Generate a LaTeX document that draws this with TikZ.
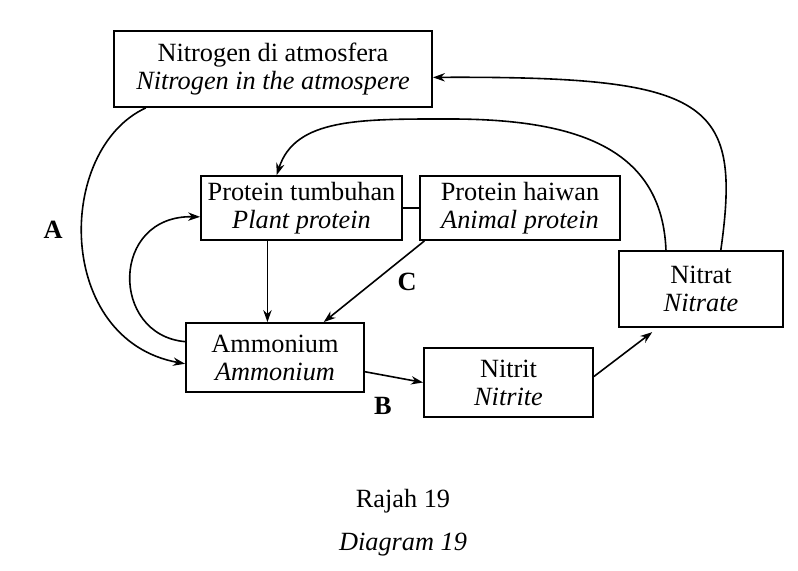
\documentclass[tikz,border=0pt]{standalone}
\usepackage{fontspec}
\setmainfont{Liberation Serif}
\usetikzlibrary{arrows.meta}

\begin{document}
\begin{tikzpicture}[x=0.5pt, y=-0.5pt,
  kotak/.style={draw, line width=0.9pt, align=center, inner sep=0pt, font=\fontsize{13.15}{14}\selectfont},
  anak/.style={-{Stealth[length=6pt, width=4.2pt]}, line width=0.8pt},
  huruf/.style={font=\fontsize{13.15}{14}\selectfont\bfseries},
  teks/.style={font=\fontsize{13.15}{14}\selectfont}]
  \useasboundingbox (0,0) rectangle (798,571);

  % Kotak
  \node[kotak, minimum width=159pt, minimum height=38pt] (atm) at (273,69) {Nitrogen di atmosfera\\\textit{Nitrogen in the atmospere}};
  \node[kotak, minimum width=100.5pt, minimum height=32pt] (plant) at (301.5,208) {Protein tumbuhan\\\textit{Plant protein}};
  \node[kotak, minimum width=100pt, minimum height=32pt] (animal) at (520,208) {Protein haiwan\\\textit{Animal protein}};
  \node[kotak, minimum width=89pt, minimum height=34.5pt] (amm) at (275,357.5) {Ammonium\\\textit{Ammonium}};
  \node[kotak, minimum width=84.5pt, minimum height=34.5pt] (nitrit) at (508.5,382.5) {Nitrit\\\textit{Nitrite}};
  \node[kotak, minimum width=82pt, minimum height=38pt] (nitrat) at (701,289) {Nitrat\\\textit{Nitrate}};

  % Anak panah
  \draw[anak] (atm.197) .. controls (55,150) and (55,340) .. (amm.184);
  \draw[anak] (amm.170) .. controls (110,335) and (110,215) .. (plant.185);
  \draw[line width=0.8pt] (plant.east) -- (animal.west);
  \draw[anak] (plant.224) -- (plant.224 |- amm.north);
  \draw[anak] (animal.199) -- (amm.36);
  \draw[anak] (amm.-9) -- (nitrit.west);
  \draw[anak, shorten >=3.5pt] (nitrit.4) -- (nitrat.222);
  \draw[anak] (nitrat.63) .. controls (742,100) and (710,76) .. (atm.-3);
  \draw[anak] (nitrat.132) .. controls (662,150) and (580,119) .. (450,119)
    .. controls (360,119) and (295,118) .. (plant.127);

  % Label
  \node[huruf] (labA) at (53,230) {A};
  \node[huruf] (labB) at (383,406) {B};
  \node[huruf] (labC) at (407,282) {C};

  \node[teks] (rajah) at (403,501) {Rajah 19};
  \node[teks] (diag) at (403,545) {\textit{Diagram 19}};
\end{tikzpicture}
\end{document}
